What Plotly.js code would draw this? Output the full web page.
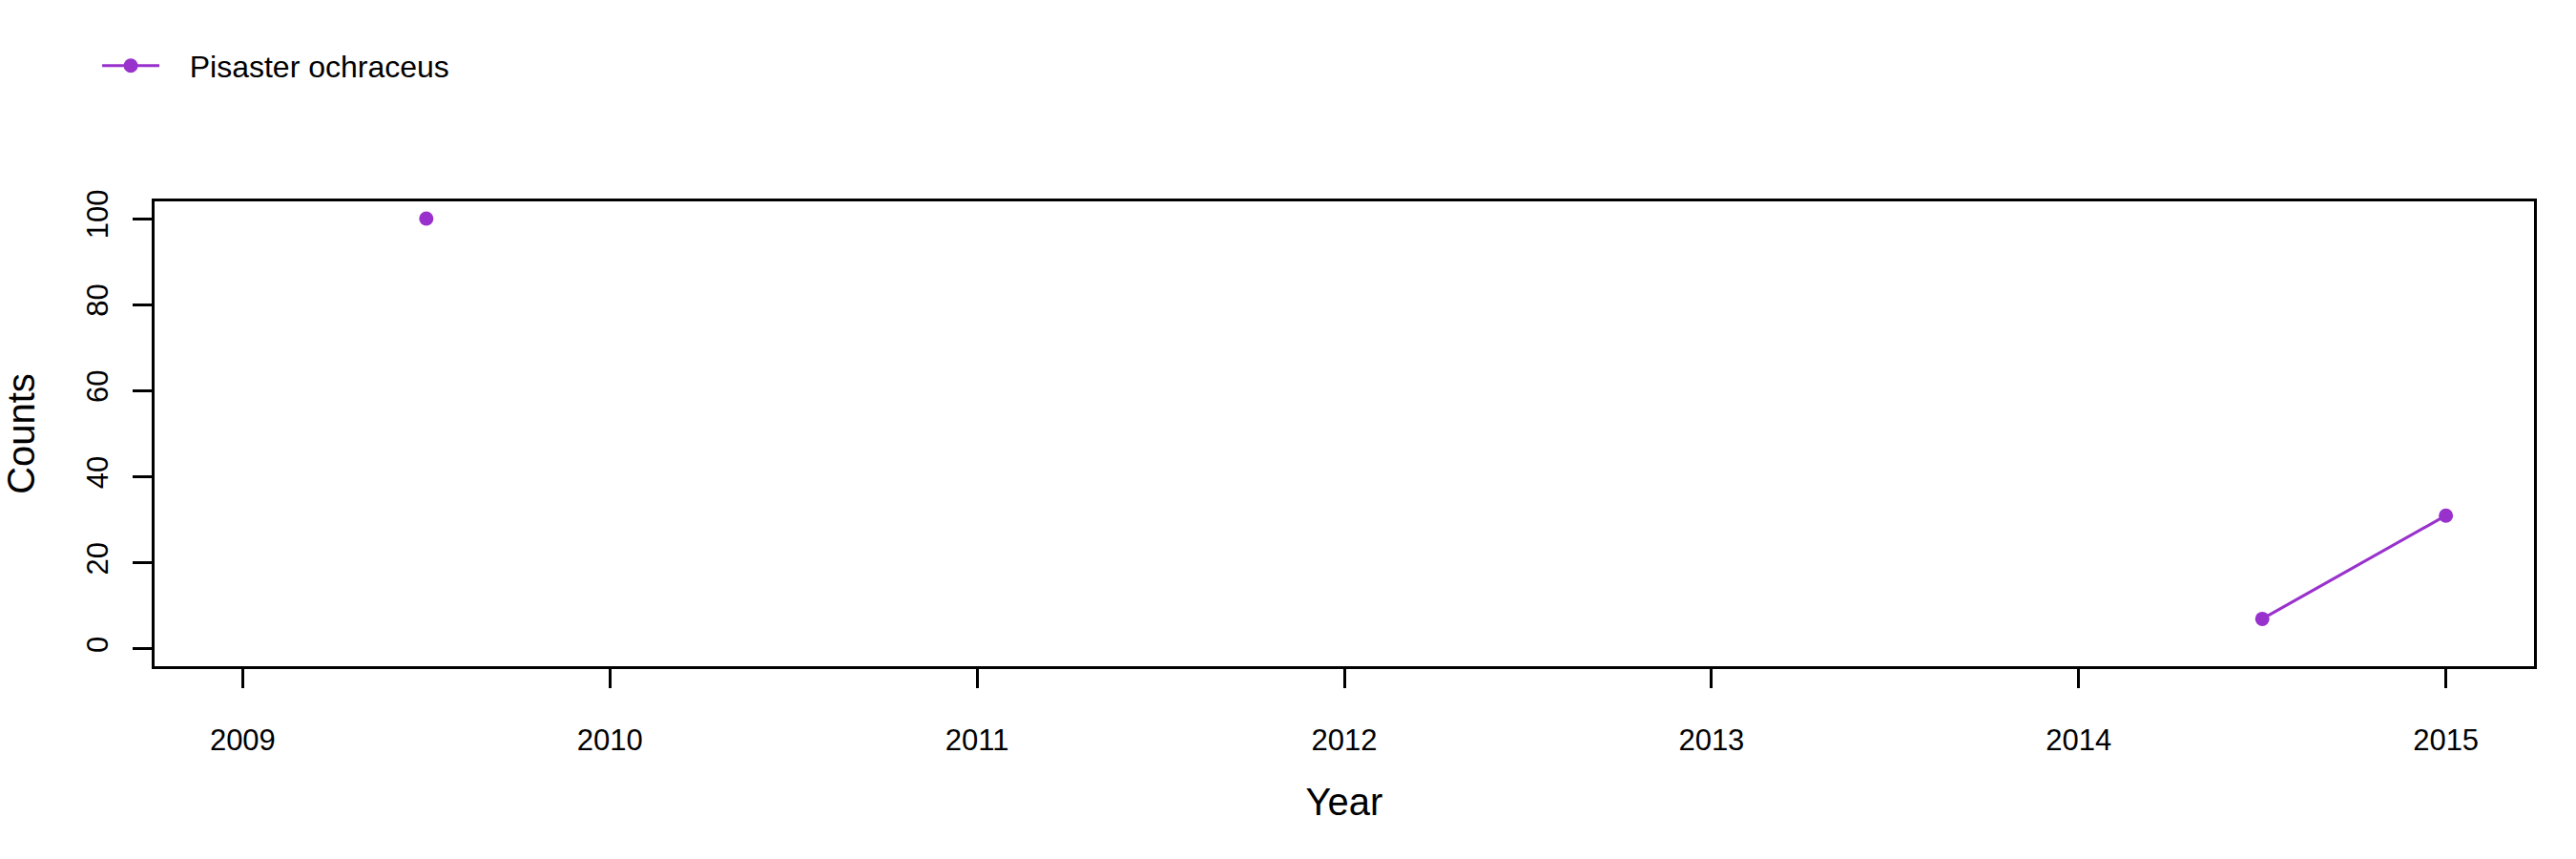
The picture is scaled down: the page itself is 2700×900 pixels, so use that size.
<!DOCTYPE html>
<html>
<head>
<meta charset="utf-8">
<script src="https://cdn.plot.ly/plotly-3.0.1.min.js"></script>
<style>html,body{margin:0;padding:0;background:#fff;}#chart{width:2700px;height:900px;}</style>
</head>
<body>
<div id="chart"></div>
<script>
// Data
const seriesName = "Pisaster ochraceus";
const years = [2009.5, 2010, 2014.5, 2015];
const counts = [100, null, 7, 31];
const xTickVals = [2009, 2010, 2011, 2012, 2013, 2014, 2015];
const xTickText = ["2009", "2010", "2011", "2012", "2013", "2014", "2015"];
const yTickVals = [0, 20, 40, 60, 80, 100];

const purple = "#9932CC";
const font = "Liberation Sans, Arial, sans-serif";

const trace = {
  x: years,
  y: counts,
  name: "\u00a0\u00a0\u00a0" + seriesName,
  type: "scatter",
  mode: "lines+markers",
  connectgaps: false,
  line: {color: purple, width: 3},
  marker: {color: purple, size: 15},
  showlegend: true
};

const axisCommon = {
  showgrid: false,
  zeroline: false,
  showline: true,
  linecolor: "#000",
  linewidth: 3,
  mirror: true,
  ticks: "outside",
  ticklen: 20,
  tickwidth: 3,
  tickcolor: "#000",
  tickfont: {family: font, size: 31, color: "#000"},
  automargin: false
};

const layout = {
  width: 2700,
  height: 900,
  paper_bgcolor: "#fff",
  plot_bgcolor: "#fff",
  margin: {l: 162, r: 44, t: 211, b: 202},
  showlegend: true,
  legend: {
    xref: "container", yref: "container",
    x: 0.0378, y: 1 - 69/900,
    xanchor: "left", yanchor: "middle",
    orientation: "h",
    font: {family: font, size: 32, color: "#000"},
    bgcolor: "rgba(0,0,0,0)",
    itemwidth: 60
  },
  xaxis: Object.assign({}, axisCommon, {
    range: [2008.76, 2015.24],
    tickmode: "array",
    tickvals: xTickVals,
    ticktext: xTickText,
    ticklabelstandoff: 28,
    title: {text: "Year", font: {family: font, size: 40, color: "#000"}, standoff: 34}
  }),
  yaxis: Object.assign({}, axisCommon, {
    range: [-4, 104],
    tickmode: "array",
    tickvals: yTickVals,
    tickangle: -90,
    ticklabelstandoff: 14,
    title: {text: "Counts", font: {family: font, size: 40, color: "#000"}, standoff: 40}
  })
};

Plotly.newPlot("chart", [trace], layout, {displayModeBar: false, staticPlot: true});
</script>
</body>
</html>
